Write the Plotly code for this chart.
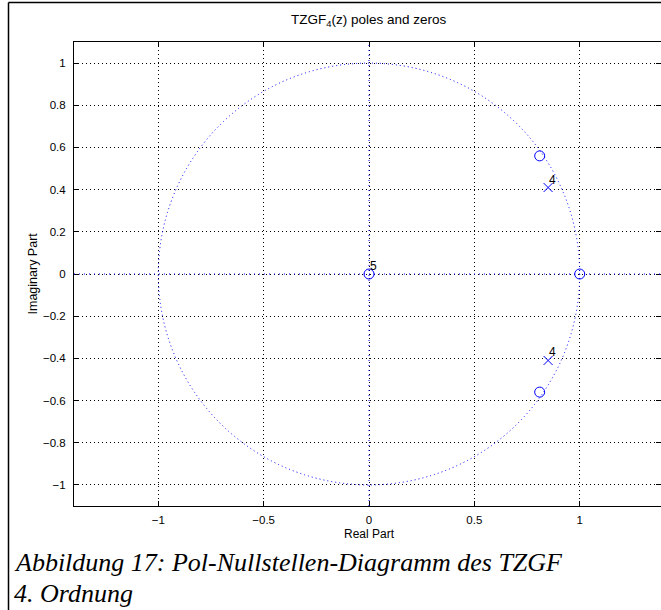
import plotly.graph_objects as go

# ---- data ----
zeros_re = [0.0, 1.0, 0.81, 0.81]
zeros_im = [0.0, 0.0, 0.56, -0.56]
poles_re = [0.85, 0.85]
poles_im = [0.41, -0.41]
mult_labels = [("5", 0.0, 0.0), ("4", 0.85, 0.41), ("4", 0.85, -0.41)]
x_ticks = [-1, -0.5, 0, 0.5, 1]
x_ticktext = ["\u22121", "\u22120.5", "0", "0.5", "1"]
y_ticks = [-1, -0.8, -0.6, -0.4, -0.2, 0, 0.2, 0.4, 0.6, 0.8, 1]
y_ticktext = ["\u22121", "\u22120.8", "\u22120.6", "\u22120.4", "\u22120.2", "0",
              "0.2", "0.4", "0.6", "0.8", "1"]
title_text = "TZGF<sub>4</sub>(z) poles and zeros"
xlabel = "Real Part"
ylabel = "Imaginary Part"
caption1 = "Abbildung 17: Pol-Nullstellen-Diagramm des TZGF"
caption2 = "4. Ordnung"

W, H = 661, 610
L, R, T, B = 74, 0, 42, 104
PW, PH = W - L - R, H - T - B

def px(xp):
    return (xp - L) / PW

def py(yp):
    return (H - B - yp) / PH

SANS = "Liberation Sans, Arial, sans-serif"
BLUE = "#0000ff"
DOT = "1px,3px"

fig = go.Figure()
fig.add_trace(go.Scatter(x=zeros_re, y=zeros_im, mode="markers",
                         marker=dict(symbol="circle-open", size=10, color=BLUE,
                                     line=dict(width=1, color=BLUE)),
                         showlegend=False, hoverinfo="skip"))
fig.add_trace(go.Scatter(x=poles_re, y=poles_im, mode="markers",
                         marker=dict(symbol="x-thin-open", size=9, color=BLUE,
                                     line=dict(width=1, color=BLUE)),
                         showlegend=False, hoverinfo="skip"))

shapes = [
    dict(type="circle", xref="x", yref="y", x0=-1, y0=-1, x1=1, y1=1,
         line=dict(color=BLUE, width=1, dash=DOT)),
    dict(type="line", xref="paper", yref="y", x0=0, x1=1, y0=0, y1=0,
         line=dict(color=BLUE, width=1, dash="1px,4px")),
    dict(type="line", xref="x", yref="paper", x0=0, x1=0, y0=0, y1=1,
         line=dict(color=BLUE, width=1, dash="1px,4px")),
    # document frame
    dict(type="line", xref="paper", yref="paper", x0=px(8.5), x1=px(8.5),
         y0=py(2.5), y1=py(H + 5), line=dict(color="black", width=1.5)),
    dict(type="line", xref="paper", yref="paper", x0=px(8.5), x1=px(W + 5),
         y0=py(2.5), y1=py(2.5), line=dict(color="black", width=1.5)),
]

ann = []
for t, x, y in mult_labels:
    ann.append(dict(text=t, x=x, y=y, xref="x", yref="y", showarrow=False,
                    xanchor="left", yanchor="middle", xshift=-1, yshift=8,
                    font=dict(family=SANS, size=12, color="black")))
ann += [
    dict(text=title_text, x=0, xref="x", y=py(20), yref="paper", showarrow=False,
         xanchor="center", yanchor="middle",
         font=dict(family=SANS, size=13.5, color="black")),
    dict(text=xlabel, x=0, xref="x", y=py(534), yref="paper", showarrow=False,
         xanchor="center", yanchor="middle",
         font=dict(family=SANS, size=12, color="black")),
    dict(text=ylabel, x=px(32), xref="paper", y=py(273.5), yref="paper",
         showarrow=False, textangle=-90, xanchor="center", yanchor="middle",
         font=dict(family=SANS, size=12.5, color="black")),
    dict(text=caption1, x=px(12), xref="paper", y=py(562), yref="paper",
         showarrow=False, xanchor="left", yanchor="middle",
         font=dict(family="Liberation Serif, Times New Roman, serif", size=26,
                   color="black", style="italic")),
    dict(text=caption2, x=px(12), xref="paper", y=py(593), yref="paper",
         showarrow=False, xanchor="left", yanchor="middle",
         font=dict(family="Liberation Serif, Times New Roman, serif", size=26,
                   color="black", style="italic")),
]

axis_common = dict(showline=True, linecolor="black", linewidth=1,
                   ticks="inside", ticklen=5, tickcolor="black", tickwidth=1,
                   mirror="ticks", showgrid=True, gridcolor="black",
                   gridwidth=1, griddash=DOT, zeroline=False,
                   tickfont=dict(family=SANS, size=11.5, color="black"))

fig.update_layout(
    width=W, height=H, margin=dict(l=L, r=R, t=T, b=B, pad=0),
    paper_bgcolor="white", plot_bgcolor="white",
    xaxis=dict(range=[-1.4, 1.4 - 3 / 211], tickvals=x_ticks, ticktext=x_ticktext,
               ticklabelstandoff=3, **axis_common),
    yaxis=dict(range=[-1.1, 1.1], tickvals=y_ticks, ticktext=y_ticktext,
               ticklabelstandoff=5, **axis_common),
    shapes=shapes, annotations=ann, showlegend=False,
)

fig.write_html("out.html", config={"displayModeBar": False},
               post_script="document.body.style.margin='0';"
                           "document.body.style.overflow='hidden';")
